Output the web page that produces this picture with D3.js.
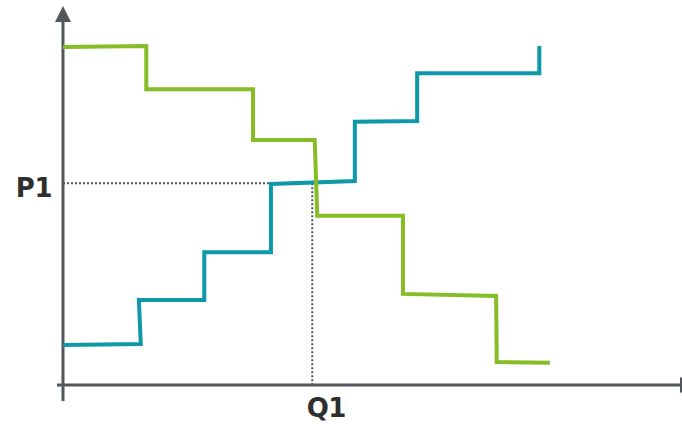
<!DOCTYPE html>
<html><head><meta charset="utf-8">
<script src="https://cdn.jsdelivr.net/npm/d3@7"></script>
<style>html,body{margin:0;padding:0;background:#fff;}</style>
</head><body>
<svg id="chart" width="682" height="424"></svg>
<script>
// Data (abstract units: quantity 0-100, price 0-100)
const demandX = [0, 13.5, 13.5, 30.8, 30.8, 40.8, 41.2, 55.1, 55.1, 70.2, 70.3, 78.9];
const demandY = [93.1, 93.4, 81.5, 81.5, 67.5, 67.5, 46.6, 46.6, 25.1, 24.5, 6.3, 6.1];
const supplyX = [0, 12.6, 12.3, 22.9, 22.9, 33.7, 33.7, 47.3, 47.3, 57.4, 57.4, 77.2, 77.2];
const supplyY = [11.0, 11.3, 23.4, 23.4, 36.6, 36.6, 55.4, 56.2, 72.5, 72.7, 85.9, 85.9, 93.4];
const pointLabels = ["P1", "Q1"];
const eqQ = 40.4, eqP = 55.6;

const svg = d3.select("#chart");
const x = d3.scaleLinear().domain([0, 100]).range([63, 680]);
const y = d3.scaleLinear().domain([0, 100]).range([385, 22]);

const axisColor = "#53565a";
// dotted guides
svg.append("line").attr("x1", x(0)).attr("x2", x(eqQ)).attr("y1", y(eqP)).attr("y2", y(eqP))
  .attr("stroke", "#555").attr("stroke-width", 2).attr("stroke-dasharray", "2,2");
svg.append("line").attr("x1", x(eqQ)).attr("x2", x(eqQ)).attr("y1", y(eqP)).attr("y2", y(0))
  .attr("stroke", "#555").attr("stroke-width", 2).attr("stroke-dasharray", "2,2");

// axes
svg.append("line").attr("x1", x(0)).attr("x2", x(0)).attr("y1", y(100)).attr("y2", y(0) + 16)
  .attr("stroke", axisColor).attr("stroke-width", 3);
svg.append("line").attr("x1", x(0) - 6).attr("x2", x(100)).attr("y1", y(0)).attr("y2", y(0))
  .attr("stroke", axisColor).attr("stroke-width", 3);
// arrows
svg.append("path").attr("d", d3.line()([[x(0) - 8, y(100)], [x(0) + 8, y(100)], [x(0), y(100) - 16]]) + "Z")
  .attr("fill", axisColor);
svg.append("path").attr("d", d3.line()([[x(100), y(0) - 8], [x(100), y(0) + 8], [x(100) + 16, y(0)]]) + "Z")
  .attr("fill", axisColor);

const line = d3.line().x(d => x(d[0])).y(d => y(d[1]));
const demand = demandX.map((v, i) => [v, demandY[i]]);
const supply = supplyX.map((v, i) => [v, supplyY[i]]);

svg.append("path").attr("d", line(supply)).attr("fill", "none")
  .attr("stroke", "#0e99a9").attr("stroke-width", 4).attr("stroke-linejoin", "miter");
svg.append("path").attr("d", line(demand)).attr("fill", "none")
  .attr("stroke", "#86bc25").attr("stroke-width", 4).attr("stroke-linejoin", "miter");

// labels
svg.append("text").attr("x", 52).attr("y", y(eqP) + 14).attr("text-anchor", "end")
  .attr("font-family", "DejaVu Sans").attr("font-weight", "bold").attr("font-size", 26)
  .attr("fill", "#2e2e2e").attr("letter-spacing", -0.5).text(pointLabels[0]);
svg.append("text").attr("x", x(eqQ) + 14).attr("y", 417).attr("text-anchor", "middle")
  .attr("font-family", "DejaVu Sans").attr("font-weight", "bold").attr("font-size", 26)
  .attr("fill", "#2e2e2e").attr("letter-spacing", -0.5).text(pointLabels[1]);
</script>
</body></html>
